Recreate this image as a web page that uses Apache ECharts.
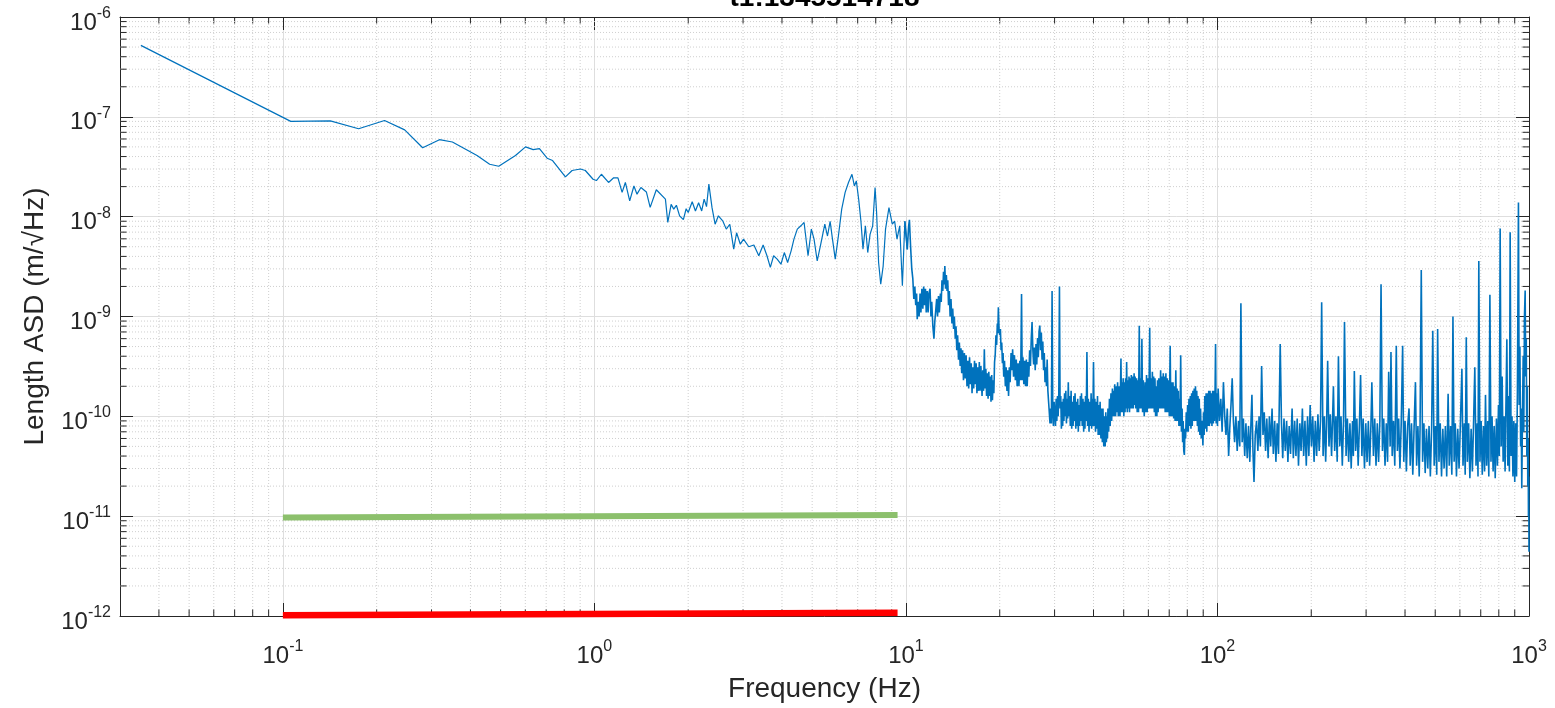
<!DOCTYPE html>
<html>
<head>
<meta charset="utf-8">
<script src="https://cdn.jsdelivr.net/npm/echarts@6/dist/echarts.min.js"></script>
<style>
  html, body { margin: 0; padding: 0; background: #ffffff; }
  #chart { width: 1555px; height: 708px; }
</style>
</head>
<body>
<div id="chart"></div>
<script>
// Length ASD spectrum, [frequency Hz, ASD m/sqrt(Hz)]
const asdBelow1Hz = [
  [0.035,5.2e-7],[0.106,9.0e-8],[0.142,9.1e-8],[0.175,7.6e-8],[0.212,9.2e-8],[0.246,7.4e-8],
  [0.281,4.9e-8],[0.318,5.9e-8],[0.35,5.6e-8],[0.42,4.1e-8],[0.461,3.35e-8],[0.493,3.2e-8],
  [0.558,4.1e-8],[0.601,5.0e-8],[0.636,4.7e-8],[0.666,4.8e-8],[0.705,3.85e-8],[0.734,3.65e-8],
  [0.807,2.5e-8],[0.848,2.9e-8],[0.902,3.0e-8],[0.935,2.9e-8],[0.99,2.37e-8],[1.015,2.3e-8],
  [1.053,2.66e-8],[1.11,2.2e-8],[1.153,2.45e-8],[1.19,2.45e-8]
];
const asd1to10Hz = [
  [1.227,1.75e-8],[1.257,2.2e-8],[1.298,1.44e-8],[1.339,2.03e-8],[1.37,1.68e-8],[1.41,1.96e-8],
  [1.468,1.77e-8],[1.51,1.24e-8],[1.58,1.86e-8],[1.69,1.5e-8],[1.72,8.75e-9],[1.763,1.33e-8],
  [1.797,1.19e-8],[1.833,1.3e-8],[1.877,1.02e-8],[1.93,9.35e-9],[1.97,1.2e-8],[2.0,1.1e-8],
  [2.06,1.41e-8],[2.11,1.14e-8],[2.16,1.38e-8],[2.21,1.14e-8],[2.25,1.5e-8],[2.29,1.26e-8],
  [2.33,2.12e-8],[2.385,1.23e-8],[2.44,8.4e-9],[2.5,1.02e-8],[2.585,9.0e-9],[2.65,7.5e-9],
  [2.72,8.4e-9],[2.8,4.73e-9],[2.86,6.9e-9],[2.94,5.3e-9],[3.01,5.95e-9],[3.13,5.0e-9],
  [3.25,5.2e-9],[3.37,4.06e-9],[3.48,5.2e-9],[3.58,4.06e-9],[3.67,3.1e-9],[3.76,4.06e-9],
  [3.86,3.76e-9],[3.97,3.34e-9],[4.07,4.37e-9],[4.17,3.47e-9],[4.28,4.55e-9],[4.37,5.95e-9],
  [4.48,7.5e-9],[4.6,8.1e-9],[4.71,8.75e-9],[4.85,4.06e-9],[4.97,7.5e-9],[5.07,5.95e-9],
  [5.19,3.6e-9],[5.32,5.2e-9],[5.49,8.4e-9],[5.6,6.4e-9],[5.71,9.0e-9],[5.8,6.2e-9],
  [5.93,3.76e-9],[6.07,6.4e-9],[6.22,1.19e-8],[6.38,1.75e-8],[6.54,2.2e-8],[6.71,2.66e-8],
  [6.83,2.03e-8],[6.93,2.28e-8],[7.05,1.5e-8],[7.17,9.0e-9],[7.28,4.73e-9],[7.41,8.1e-9],
  [7.54,4.37e-9],[7.67,6.65e-9],[7.82,8.1e-9],[7.96,1.96e-8],[8.05,1.1e-8],[8.17,3.47e-9],
  [8.3,2.11e-9],[8.45,3.2e-9],[8.6,7.5e-9],[8.82,1.23e-8],[9.04,8.4e-9],[9.2,9.0e-9],
  [9.36,5.95e-9],[9.55,8.1e-9],[9.74,2.03e-9],[9.92,9.0e-9]
];
const asd10to30Hz = [
  [10.1,4.7e-9],[10.2,8.0e-9],[10.26,9.3e-9],[10.35,5.0e-9],[10.44,3.0e-9],[10.52,2.4e-9],
  [10.6,1.5e-9],[10.68,2.0e-9],[10.75,1.3e-9],[10.82,1.7e-9],[10.87,9.4e-10],[10.95,1.4e-9],
  [11.02,1.0e-9],[11.1,1.7e-9],[11.17,1.1e-9],[11.25,1.9e-9],[11.33,1.2e-9],[11.4,2.0e-9],
  [11.48,1.3e-9],[11.55,1.9e-9],[11.62,1.1e-9],[11.7,1.8e-9],[11.78,1.1e-9],[11.85,1.7e-9],
  [11.95,1.9e-9],[12.03,1.0e-9],[12.1,1.4e-9],[12.2,8.0e-10],[12.3,6.0e-10],[12.38,9.0e-10],
  [12.45,1.1e-9],[12.55,1.5e-9],[12.63,1.0e-9],[12.72,1.6e-9],[12.8,1.1e-9],[12.9,1.7e-9],
  [12.98,1.4e-9],[13.05,2.3e-9],[13.13,1.8e-9],[13.2,2.8e-9],[13.27,2.1e-9],[13.33,3.2e-9],
  [13.4,1.9e-9],[13.48,2.6e-9],[13.55,1.8e-9],[13.62,2.3e-9],[13.7,1.3e-9],[13.78,1.8e-9],
  [13.86,1.0e-9],[13.95,1.5e-9],[14.05,8.5e-10],[14.13,1.2e-9],[14.22,7.5e-10],[14.3,1.0e-9],
  [14.4,6.0e-10],[14.48,8.0e-10],[14.56,4.6e-10],[14.65,6.5e-10],[14.75,3.7e-10],[14.84,5.5e-10],
  [14.93,3.2e-10],[15.02,4.8e-10],[15.1,2.7e-10],[15.2,4.6e-10],[15.3,2.3e-10],[15.4,4.3e-10],
  [15.5,2.4e-10],[15.6,4.1e-10],[15.7,2.0e-10],[15.8,3.6e-10],[15.9,1.9e-10],[16.0,3.9e-10],
  [16.1,2.1e-10],[16.2,3.4e-10],[16.3,1.7e-10],[16.4,3.1e-10],[16.5,1.9e-10],[16.6,3.6e-10],
  [16.7,2.1e-10],[16.8,3.4e-10],[16.9,1.7e-10],[17.0,3.1e-10],[17.1,1.8e-10],[17.2,3.5e-10],
  [17.3,1.8e-10],[17.4,3.2e-10],[17.55,1.6e-10],[17.65,2.9e-10],[17.75,1.8e-10],[17.85,4.7e-10],
  [17.95,1.9e-10],[18.05,3.0e-10],[18.15,1.6e-10],[18.25,2.7e-10],[18.35,1.5e-10],[18.45,2.8e-10],
  [18.55,1.6e-10],[18.65,2.5e-10],[18.75,1.4e-10],[18.85,2.6e-10],[18.95,1.45e-10],[19.05,2.3e-10],
  [19.15,1.7e-10],[19.25,3.5e-10],[19.35,4.2e-10],[19.45,6.5e-10],[19.55,5.2e-10],[19.65,8.5e-10],
  [19.72,6.8e-10],[19.8,1.24e-9],[19.9,7.5e-10],[20.0,6.5e-10],[20.1,7.5e-10],[20.2,4.6e-10],
  [20.3,5.5e-10],[20.4,3.4e-10],[20.5,4.3e-10],[20.6,2.5e-10],[20.72,3.6e-10],[20.85,2.0e-10],
  [20.97,3.1e-10],[21.1,1.8e-10],[21.22,2.9e-10],[21.35,1.6e-10],[21.48,3.1e-10],[21.6,2.2e-10],
  [21.75,4.3e-10],[21.9,2.9e-10],[22.0,4.7e-10],[22.15,2.5e-10],[22.3,4.1e-10],[22.45,2.3e-10],
  [22.6,3.7e-10],[22.75,2.0e-10],[22.9,3.4e-10],[23.05,2.0e-10],[23.2,3.6e-10],[23.35,2.3e-10],
  [23.5,1.68e-9],[23.62,2.3e-10],[23.75,3.9e-10],[23.9,2.1e-10],[24.05,3.6e-10],[24.2,2.0e-10],
  [24.35,3.7e-10],[24.5,2.0e-10],[24.65,3.5e-10],[24.8,2.5e-10],[24.95,4.6e-10],[25.1,3.2e-10],
  [25.25,6.0e-10],[25.4,8.8e-10],[25.55,4.6e-10],[25.7,3.3e-10],[25.85,4.9e-10],[26.0,2.9e-10],
  [26.15,5.3e-10],[26.3,3.3e-10],[26.45,6.1e-10],[26.6,3.9e-10],[26.75,7.1e-10],[26.9,8.1e-10],
  [27.05,4.6e-10],[27.2,6.9e-10],[27.35,3.7e-10],[27.5,5.6e-10],[27.65,2.9e-10],[27.8,4.3e-10],
  [27.95,2.2e-10],[28.1,3.1e-10],[28.25,2.0e-10],[28.4,3.7e-10],[28.55,1.8e-10],[28.7,1.4e-10],
  [28.85,1.1e-10],[29.0,8.5e-11],[29.15,1.2e-10],[29.3,8.5e-11],[29.45,1.8e-9],[29.6,1.1e-10],
  [29.75,8.0e-11],[29.9,1.4e-10]
];
const asd30to100Hz = [
  [30.2,8.0e-11],[30.35,1.5e-10],[30.5,9.0e-11],[30.65,1.6e-10],[30.8,1.0e-10],[30.95,1.7e-10],
  [31.1,2.0e-9],[31.25,1.2e-10],[31.4,1.6e-10],[31.55,7.5e-11],[31.7,1.4e-10],[31.85,8.0e-11],
  [32.0,1.5e-10],[32.15,9.0e-11],[32.3,1.7e-10],[32.45,1.0e-10],[32.6,1.8e-10],[32.75,8.5e-11],
  [32.9,1.5e-10],[33.05,9.5e-11],[33.2,2.2e-10],[33.35,1.0e-10],[33.5,1.6e-10],[33.7,8.0e-11],
  [33.9,1.8e-10],[34.05,7.5e-11],[34.2,1.4e-10],[34.4,8.0e-11],[34.6,1.6e-10],[34.75,9.0e-11],
  [34.9,1.7e-10],[35.1,7.5e-11],[35.3,1.4e-10],[35.45,8.0e-11],[35.6,1.5e-10],[35.75,7.0e-11],
  [35.9,1.3e-10],[36.1,8.0e-11],[36.3,1.6e-10],[36.45,9.0e-11],[36.6,1.7e-10],[36.8,8.0e-11],
  [37.0,1.5e-10],[37.2,7.0e-11],[37.4,1.4e-10],[37.55,7.5e-11],[37.7,1.6e-10],[37.9,9.0e-11],
  [38.1,4.4e-10],[38.3,8.0e-11],[38.5,1.5e-10],[38.7,7.0e-11],[38.9,1.4e-10],[39.1,8.0e-11],
  [39.3,1.7e-10],[39.45,7.5e-11],[39.6,1.5e-10],[39.8,8.0e-11],[40.0,3.5e-10],[40.2,8.0e-11],
  [40.4,1.5e-10],[40.6,7.0e-11],[40.8,1.4e-10],[41.0,7.5e-11],[41.2,1.6e-10],[41.4,6.5e-11],
  [41.6,1.3e-10],[41.8,6.5e-11],[42.0,1.4e-10],[42.25,6.0e-11],[42.5,1.2e-10],[42.7,5.5e-11],
  [42.9,1.2e-10],[43.15,5.0e-11],[43.4,1.0e-10],[43.6,5.0e-11],[43.8,1.1e-10],[44.0,5.5e-11],
  [44.2,1.0e-10],[44.35,6.0e-11],[44.5,1.2e-10],[44.75,7.0e-11],[45.0,1.5e-10],[45.25,8.0e-11],
  [45.5,1.7e-10],[45.75,9.0e-11],[46.0,1.9e-10],[46.15,1.0e-10],[46.3,1.8e-10],[46.55,1.0e-10],
  [46.8,2.1e-10],[47.1,1.0e-10],[47.4,2.0e-10],[47.6,1.1e-10],[47.8,2.2e-10],[48.05,1.0e-10],
  [48.3,2.0e-10],[48.65,1.0e-10],[49.0,3.8e-10],[49.2,1.1e-10],[49.4,2.2e-10],[49.6,1.1e-10],
  [49.8,2.4e-10],[50.05,1.0e-10],[50.3,2.2e-10],[50.5,1.1e-10],[50.7,2.4e-10],[50.9,1.2e-10],
  [51.1,3.5e-10],[51.35,1.1e-10],[51.6,2.3e-10],[51.8,1.2e-10],[52.0,2.5e-10],[52.2,1.1e-10],
  [52.4,2.4e-10],[52.65,1.2e-10],[52.9,2.6e-10],[53.15,1.2e-10],[53.4,2.5e-10],[53.7,1.2e-10],
  [54.0,2.7e-10],[54.2,1.3e-10],[54.4,2.5e-10],[54.7,1.2e-10],[55.0,2.4e-10],[55.25,1.1e-10],
  [55.5,2.3e-10],[55.8,1.1e-10],[56.1,8.1e-10],[56.35,1.2e-10],[56.6,2.4e-10],[56.9,1.2e-10],
  [57.2,6.0e-10],[57.5,1.1e-10],[57.8,2.3e-10],[58.2,1.0e-10],[58.6,2.2e-10],[58.9,1.1e-10],
  [59.2,2.6e-10],[59.5,1.1e-10],[59.8,2.4e-10],[60.2,1.2e-10],[60.6,7.7e-10],[60.9,1.2e-10],
  [61.2,2.4e-10],[61.5,1.2e-10],[61.8,2.8e-10],[62.1,1.2e-10],[62.4,2.5e-10],[62.7,1.1e-10],
  [63.0,2.4e-10],[63.3,1.0e-10],[63.6,2.0e-10],[63.9,1.0e-10],[64.2,2.3e-10],[64.5,1.1e-10],
  [64.8,2.4e-10],[65.25,1.2e-10],[65.7,2.9e-10],[66.0,1.2e-10],[66.3,2.5e-10],[66.65,1.2e-10],
  [67.0,2.7e-10],[67.3,1.2e-10],[67.6,2.5e-10],[67.95,1.1e-10],[68.3,2.7e-10],[68.65,1.1e-10],
  [69.0,2.4e-10],[69.3,1.1e-10],[69.6,2.3e-10],[70.05,1.0e-10],[70.5,5.1e-10],[70.85,1.0e-10],
  [71.2,2.2e-10],[71.6,1.0e-10],[72.0,2.2e-10],[72.35,9.5e-11],[72.7,2.0e-10],[73.1,9.0e-11],
  [73.5,2.9e-10],[73.85,9.0e-11],[74.2,1.9e-10],[74.55,9.0e-11],[74.9,1.8e-10],[75.2,8.0e-11],
  [75.5,1.5e-10],[75.85,8.0e-11],[76.2,4.1e-10],[76.6,7.0e-11],[77.0,1.2e-10],[77.3,5.5e-11],
  [77.6,9.0e-11],[77.95,4.5e-11],[78.3,4.1e-11],[78.65,7.5e-11],[79.0,6.0e-11],[79.4,1.1e-10],
  [79.8,7.0e-11],[80.2,1.3e-10],[80.6,7.0e-11],[81.0,1.5e-10],[81.4,8.0e-11],[81.8,1.6e-10],
  [82.2,7.5e-11],[82.6,1.7e-10],[83.0,8.0e-11],[83.4,1.8e-10],[83.8,9.0e-11],[84.2,1.9e-10],
  [84.6,9.0e-11],[85.0,2.0e-10],[85.4,9.0e-11],[85.8,1.8e-10],[86.2,8.0e-11],[86.6,1.6e-10],
  [87.0,7.0e-11],[87.4,1.5e-10],[87.8,6.5e-11],[88.25,1.2e-10],[88.7,6.0e-11],[89.25,9.0e-11],
  [89.8,5.1e-11],[90.2,1.1e-10],[90.6,6.5e-11],[91.05,1.6e-10],[91.5,7.5e-11],[91.95,1.7e-10],
  [92.4,7.0e-11],[92.85,1.7e-10],[93.3,8.0e-11],[93.75,1.8e-10],[94.2,8.0e-11],[94.65,1.8e-10],
  [95.1,8.5e-11],[95.55,1.7e-10],[96.0,8.0e-11],[96.5,1.8e-10],[97.0,8.5e-11],[97.4,1.8e-10],
  [97.8,9.0e-11],[98.2,1.6e-10],[98.6,5.3e-10],[99.05,8.5e-11],[99.5,1.7e-10],[100.0,8.0e-11]
];
const asd100to1000Hz = [
  [100.5,1.9e-10],[101.5,9.0e-11],[102.5,1.5e-10],[103.5,7.0e-11],[104.5,2.2e-10],[105.5,1.0e-10],
  [106.5,6.5e-11],[107.5,1.2e-10],[108.6,4.0e-11],[109.6,8.0e-11],[110.5,1.3e-10],[111.5,2.4e-10],
  [112.5,9.0e-11],[113.5,5.5e-11],[114.6,1.0e-10],[115.7,4.5e-11],[116.8,9.0e-11],[117.9,5.0e-11],
  [118.9,1.36e-9],[120.0,5.5e-11],[121.1,9.5e-11],[122.3,4.0e-11],[123.4,8.5e-11],[124.6,3.8e-11],
  [125.8,8.0e-11],[127.0,3.5e-11],[128.2,9.5e-11],[129.0,1.64e-10],[130.0,4.5e-11],[131.0,2.2e-11],
  [132.2,6.5e-11],[133.5,9.0e-11],[134.8,4.5e-11],[136.0,1.0e-10],[137.3,5.0e-11],[138.6,3.2e-10],
  [140.0,6.5e-11],[141.3,1.1e-10],[142.7,4.5e-11],[144.0,9.5e-11],[145.4,3.8e-11],[146.8,1.0e-10],
  [148.2,5.0e-11],[149.7,1.2e-10],[151.1,4.2e-11],[152.6,9.0e-11],[154.0,3.5e-11],[155.5,8.5e-11],
  [157.0,4.2e-11],[159.0,5.3e-10],[160.5,8.5e-11],[162.0,3.8e-11],[163.5,9.5e-11],[165.1,4.5e-11],
  [166.7,9.0e-11],[168.3,3.5e-11],[169.9,8.0e-11],[171.6,4.2e-11],[173.6,1.2e-10],[175.2,3.8e-11],
  [176.9,9.0e-11],[178.6,4.0e-11],[180.3,9.5e-11],[182.0,3.2e-11],[183.8,8.5e-11],[185.5,4.5e-11],
  [187.3,1.2e-10],[189.1,4.0e-11],[190.9,9.0e-11],[192.8,3.2e-11],[194.6,1.0e-10],[196.5,4.0e-11],
  [198.4,1.3e-10],[200.3,5.0e-11],[202.2,1.0e-10],[204.2,3.5e-11],[206.1,9.0e-11],[208.1,4.0e-11],
  [210.1,1.05e-10],[212.1,4.5e-11],[214.2,9.0e-11],[216.0,1.39e-9],[218.3,4.0e-11],[220.4,1.0e-10],
  [222.5,3.5e-11],[224.0,8.0e-11],[225.8,3.6e-10],[228.0,5.0e-11],[230.2,1.05e-10],[232.4,4.0e-11],
  [234.0,9.0e-11],[235.6,2.0e-10],[237.8,4.5e-11],[240.0,1.0e-10],[242.3,3.5e-11],[244.5,4.0e-10],
  [246.9,5.0e-11],[249.2,1.0e-10],[251.6,3.2e-11],[253.9,9.0e-11],[255.7,8.8e-10],[258.7,4.0e-11],
  [261.2,9.5e-11],[263.7,3.5e-11],[266.2,8.5e-11],[268.7,3.0e-11],[271.3,9.0e-11],[273.0,4.0e-11],
  [275.0,2.85e-10],[277.6,4.5e-11],[280.2,9.5e-11],[282.9,3.2e-11],[285.6,8.5e-11],[288.0,2.6e-10],
  [290.8,4.0e-11],[293.6,9.5e-11],[296.4,3.0e-11],[299.3,8.5e-11],[302.1,3.5e-11],[305.0,9.0e-11],
  [307.9,3.2e-11],[310.8,8.0e-11],[313.0,2.2e-10],[316.7,4.0e-11],[319.7,9.5e-11],[322.8,3.2e-11],
  [325.9,8.5e-11],[329.0,3.5e-11],[332.1,9.0e-11],[335.0,2.1e-9],[338.5,4.5e-11],[341.7,9.5e-11],
  [345.0,3.2e-11],[348.3,8.5e-11],[351.6,3.5e-11],[354.5,2.8e-10],[358.3,5.0e-11],[360.5,4.4e-10],
  [363.8,4.0e-11],[367.3,9.0e-11],[370.8,3.2e-11],[375.0,5.1e-10],[378.0,4.5e-11],[381.6,9.5e-11],
  [385.2,3.0e-11],[388.9,8.5e-11],[393.0,5.1e-10],[396.3,3.5e-11],[400.1,9.0e-11],[404.0,2.8e-11],
  [407.8,8.0e-11],[412.0,1.2e-10],[415.6,3.2e-11],[419.6,8.5e-11],[423.6,2.6e-11],[427.6,7.5e-11],
  [432.0,2.2e-10],[435.8,3.2e-11],[440.0,8.0e-11],[444.2,2.5e-11],[447.0,7.5e-11],[451.0,2.93e-9],
  [455.5,3.5e-11],[459.9,8.5e-11],[464.3,2.7e-11],[468.7,7.5e-11],[473.2,3.0e-11],[477.7,8.0e-11],
  [482.3,2.5e-11],[486.9,7.5e-11],[491.0,7.2e-10],[496.2,3.2e-11],[500.9,8.0e-11],[505.7,2.6e-11],
  [509.0,7.5e-10],[514.0,3.5e-11],[518.9,8.5e-11],[523.9,2.5e-11],[528.9,7.5e-11],[533.9,3.0e-11],
  [539.0,8.0e-11],[544.2,2.5e-11],[550.0,1.68e-10],[554.6,3.2e-11],[559.9,8.0e-11],[565.3,2.6e-11],
  [570.0,1.0e-9],[575.0,3.5e-11],[580.0,8.5e-11],[585.0,2.5e-11],[590.6,7.5e-11],[596.3,3.0e-11],
  [602.0,8.0e-11],[609.0,3.0e-10],[614.0,3.2e-11],[620.0,8.5e-11],[624.0,2.6e-11],[629.0,6.2e-10],
  [634.0,3.5e-11],[640.0,8.5e-11],[646.0,2.4e-11],[652.0,7.5e-11],[658.0,2.8e-11],[664.0,9.0e-11],
  [670.0,3.1e-10],[676.0,3.2e-11],[682.0,8.5e-11],[686.0,2.5e-11],[690.0,3.6e-9],[696.0,3.5e-11],
  [702.0,9.0e-11],[708.0,2.6e-11],[714.0,8.0e-11],[720.0,2.8e-11],[725.0,1.64e-10],[731.0,3.2e-11],
  [737.0,9.0e-11],[743.0,2.5e-11],[749.0,1.65e-9],[755.0,3.5e-11],[761.0,1.0e-10],[767.0,2.8e-11],
  [773.0,8.0e-11],[779.0,2.4e-11],[786.0,9.5e-11],[792.0,3.2e-11],[798.0,1.3e-10],[803.0,4.0e-11],
  [808.0,7.6e-9],[814.0,5.0e-11],[820.0,2.5e-10],[826.0,3.5e-11],[832.0,1.0e-10],[838.0,2.8e-11],
  [843.0,1.2e-10],[849.0,5.9e-10],[855.0,3.2e-11],[860.0,1.6e-10],[865.0,2.8e-11],[870.0,7.0e-9],
  [876.0,4.0e-11],[882.0,1.0e-10],[888.0,2.5e-11],[894.0,9.0e-11],[900.0,2.2e-11],[906.0,8.5e-11],
  [912.0,2.5e-11],[918.0,1.8e-10],[925.0,1.39e-8],[930.0,1.3e-10],[935.0,5.0e-10],[940.0,5.0e-11],
  [944.0,1.2e-10],[948.0,1.9e-11],[953.0,1.0e-10],[958.0,4.0e-10],[962.0,7.0e-11],[967.0,1.0e-9],
  [972.0,1.82e-9],[976.0,2.5e-10],[980.0,6.0e-10],[984.0,4.0e-11],[988.0,2.0e-10],[991.0,2.0e-11],
  [994.0,6.0e-11],[996.0,1.0e-11],[998.0,2.5e-11],[1000.0,4.4e-12]
];
// Reference levels, 0.1 Hz to 9.4 Hz
const greenLevel = [[0.1, 0.97e-11], [9.4, 1.03e-11]];
const redLevel = [[0.1, 1.02e-12], [9.4, 1.08e-12]];

const xTickExponents = [-1, 0, 1, 2, 3];
const yTickExponents = [-12, -11, -10, -9, -8, -7, -6];
const titleText = 't1:1345514718';
const xName = 'Frequency (Hz)';
const yName = 'Length ASD (m/\u221AHz)';

// the trace is drawn in two pieces joined at ~10 Hz: the dense upper part
// uses a slightly heavier stroke so the noise floor reads as a solid band
const asdLowPart = [].concat(asdBelow1Hz, asd1to10Hz, asd10to30Hz.slice(0, 1));
const asdHighPart = [].concat(asd1to10Hz.slice(-1), asd10to30Hz, asd30to100Hz, asd100to1000Hz);

const FONT = "'Liberation Sans', Arial, Helvetica, sans-serif";
const INK = '#262626';
const TRACE = '#0072BD';
const X_MIN = 0.03, X_MAX = 1000, Y_MIN = 1e-12, Y_MAX = 1e-6;
const MAJOR_TICK = 13, MINOR_TICK = 6.5;

// minor (2..9 x 10^k) positions for the log grid
const xMinor = [];
for (let e = -2; e <= 2; e++) for (let m = 2; m <= 9; m++) {
  const v = m * Math.pow(10, e);
  if (v > X_MIN * 1.001 && v < X_MAX) xMinor.push([v, Y_MIN]);
}
const yMinor = [];
for (let e = -12; e <= -7; e++) for (let m = 2; m <= 9; m++) {
  yMinor.push([X_MIN, m * Math.pow(10, e)]);
}

function powLabel(exps) {
  return function (v) {
    const e = Math.round(Math.log10(v));
    if (Math.abs(v / Math.pow(10, e) - 1) > 1e-6 || exps.indexOf(e) < 0) return '';
    return '{b|10}{s|' + e + '}';
  };
}
const richPow = {
  b: { fontSize: 24, fontFamily: FONT, color: INK },
  s: { fontSize: 16, fontFamily: FONT, color: INK, padding: [0, 0, 19, 0] }
};

const minorStyle = { stroke: '#cfcfcf', lineWidth: 1, lineDash: [1, 2] };
const tickStyle = { stroke: INK, lineWidth: 1 };

const chart = echarts.init(document.getElementById('chart'), null, { renderer: 'canvas' });
chart.setOption({
  animation: false,
  backgroundColor: '#ffffff',
  graphic: [{
    type: 'text', x: 824.5, y: 12, z: 10,
    style: { text: titleText, font: 'bold 28px ' + FONT, fill: '#000000', align: 'center', verticalAlign: 'bottom' }
  }],
  grid: { left: 120, right: 26, top: 17, bottom: 91, containLabel: false },
  xAxis: [{
    type: 'log', logBase: 10, min: X_MIN, max: X_MAX, position: 'bottom',
    name: xName, nameLocation: 'middle', nameGap: 59,
    nameTextStyle: { fontSize: 28, fontFamily: FONT, color: INK },
    axisLine: { show: true, onZero: false, lineStyle: { color: INK, width: 1 } },
    axisTick: { show: true, inside: true, length: MAJOR_TICK, lineStyle: { color: INK } },
    axisLabel: { show: true, margin: 23, formatter: powLabel(xTickExponents), rich: richPow, showMinLabel: false },
    splitLine: { show: true, lineStyle: { color: '#dedede', width: 1 } },
    minorTick: { show: false }, minorSplitLine: { show: false }
  }, {
    type: 'log', logBase: 10, min: X_MIN, max: X_MAX, position: 'top',
    axisLine: { show: true, onZero: false, lineStyle: { color: INK, width: 1 } },
    axisTick: { show: true, inside: true, length: MAJOR_TICK, lineStyle: { color: INK } },
    axisLabel: { show: false }, splitLine: { show: false }
  }],
  yAxis: [{
    type: 'log', logBase: 10, min: Y_MIN, max: Y_MAX, position: 'left',
    name: yName, nameLocation: 'middle', nameGap: 71,
    nameTextStyle: { fontSize: 28, fontFamily: FONT, color: INK },
    axisLine: { show: true, onZero: false, lineStyle: { color: INK, width: 1 } },
    axisTick: { show: true, inside: true, length: MAJOR_TICK, lineStyle: { color: INK } },
    axisLabel: { show: true, margin: 9, formatter: powLabel(yTickExponents), rich: richPow, padding: [12, 0, 0, 0] },
    splitLine: { show: true, lineStyle: { color: '#dedede', width: 1 } }
  }, {
    type: 'log', logBase: 10, min: Y_MIN, max: Y_MAX, position: 'right',
    axisLine: { show: true, onZero: false, lineStyle: { color: INK, width: 1 } },
    axisTick: { show: true, inside: true, length: MAJOR_TICK, lineStyle: { color: INK } },
    axisLabel: { show: false }, splitLine: { show: false }
  }],
  series: [
    {
      // dotted minor grid and minor ticks along frequency
      type: 'custom', xAxisIndex: 0, yAxisIndex: 0, silent: true, z: 1, clip: false,
      data: xMinor,
      renderItem: function (params, api) {
        const x = api.value(0);
        const b = api.coord([x, Y_MIN]), t = api.coord([x, Y_MAX]);
        return { type: 'group', children: [
          { type: 'line', shape: { x1: b[0], y1: b[1], x2: t[0], y2: t[1] }, style: minorStyle },
          { type: 'line', shape: { x1: b[0], y1: b[1], x2: b[0], y2: b[1] - MINOR_TICK }, style: tickStyle },
          { type: 'line', shape: { x1: t[0], y1: t[1], x2: t[0], y2: t[1] + MINOR_TICK }, style: tickStyle }
        ] };
      }
    },
    {
      // dotted minor grid and minor ticks along ASD
      type: 'custom', xAxisIndex: 0, yAxisIndex: 0, silent: true, z: 1, clip: false,
      data: yMinor,
      renderItem: function (params, api) {
        const y = api.value(1);
        const l = api.coord([X_MIN, y]), r = api.coord([X_MAX, y]);
        return { type: 'group', children: [
          { type: 'line', shape: { x1: l[0], y1: l[1], x2: r[0], y2: r[1] }, style: minorStyle },
          { type: 'line', shape: { x1: l[0], y1: l[1], x2: l[0] + MINOR_TICK, y2: l[1] }, style: tickStyle },
          { type: 'line', shape: { x1: r[0], y1: r[1], x2: r[0] - MINOR_TICK, y2: r[1] }, style: tickStyle }
        ] };
      }
    },
    {
      type: 'line', name: 'ASD', data: asdLowPart, xAxisIndex: 0, yAxisIndex: 0,
      showSymbol: false, symbol: 'none', z: 3,
      lineStyle: { color: TRACE, width: 1.2 }
    },
    {
      type: 'line', name: 'ASD', data: asdHighPart, xAxisIndex: 0, yAxisIndex: 0,
      showSymbol: false, symbol: 'none', z: 3,
      lineStyle: { color: TRACE, width: 1.6 }
    },
    {
      type: 'line', name: 'green level', data: greenLevel, xAxisIndex: 0, yAxisIndex: 0,
      showSymbol: false, symbol: 'none', z: 4,
      lineStyle: { color: '#8cc06c', width: 6, cap: 'butt' }
    },
    {
      type: 'line', name: 'red level', data: redLevel, xAxisIndex: 0, yAxisIndex: 0,
      showSymbol: false, symbol: 'none', z: 4,
      lineStyle: { color: '#ff0000', width: 6.5, cap: 'butt' }
    }
  ]
});
</script>
</body>
</html>
